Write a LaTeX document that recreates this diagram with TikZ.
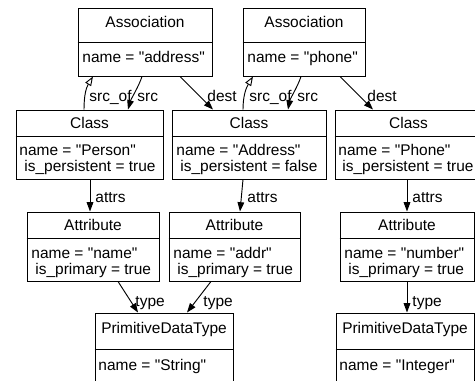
\documentclass[tikz,border=0pt]{standalone}
\usepackage{fontspec}
\setmainfont{Liberation Sans}
\usetikzlibrary{fit}
\usetikzlibrary{arrows.meta}
\tikzstyle{rec} = [rectangle,draw=black,inner sep=0pt]
\tikzstyle{ttl} = [inner sep=0pt,anchor=base]
\tikzstyle{fld} = [inner sep=0pt,anchor=base west]
\tikzstyle{lbl} = [inner sep=0pt,anchor=base west]
\tikzset{>={Triangle[length=7pt,width=5pt]}}
\tikzset{hollow/.style={-{Triangle[open,length=7pt,width=5pt]}}}
\newcommand{\dq}{\textquotedbl}

\begin{document}
\begin{tikzpicture}[x=0.75pt,y=-0.75pt,line width=0.7pt,font=\fontsize{11.6}{14}\selectfont]
  \useasboundingbox (0,0) rectangle (475,381);
  \clip (0,0) rectangle (475,381);

  % associations
  \node [rec,fit={(78,8) (212,76)}] (a1) {};
  \draw (a1.west |- 0,42) -- (a1.east |- 0,42);
  \node [ttl] (a1t) at (a1.center |- 0,28) {Association};
  \node [fld] (a1f) at (82,63) {name = \dq address\dq};

  \node [rec,fit={(243,8) (365,76)}] (a2) {};
  \draw (a2.west |- 0,42) -- (a2.east |- 0,42);
  \node [ttl] (a2t) at (a2.center |- 0,28) {Association};
  \node [fld] (a2f) at (247,63) {name = \dq phone\dq};

  % classes
  \node [rec,fit={(16,110) (163,179)}] (c1) {};
  \draw (c1.west |- 0,136) -- (c1.east |- 0,136);
  \node [ttl] (c1t) at (c1.center |- 0,129) {Class};
  \node [fld] (c1f) at (19,156) {name = \dq Person\dq};
  \node [fld] (c1g) at (24,172) {is\_persistent = true};

  \node [rec,fit={(172,110) (326,179)}] (c2) {};
  \draw (c2.west |- 0,136) -- (c2.east |- 0,136);
  \node [ttl] (c2t) at (c2.center |- 0,129) {Class};
  \node [fld] (c2f) at (176,156) {name = \dq Address\dq};
  \node [fld] (c2g) at (180,172) {is\_persistent = false};

  \node [rec,fit={(335,110) (482,179)}] (c3) {};
  \draw (c3.west |- 0,136) -- (c3.east |- 0,136);
  \node [ttl] (c3t) at (c3.center |- 0,129) {Class};
  \node [fld] (c3f) at (338,156) {name = \dq Phone\dq};
  \node [fld] (c3g) at (342,172) {is\_persistent = true};

  % attributes
  \node [rec,fit={(27,212) (159,281)}] (t1) {};
  \draw (t1.west |- 0,238) -- (t1.east |- 0,238);
  \node [ttl] (t1t) at (t1.center |- 0,231) {Attribute};
  \node [fld] (t1f) at (31,258) {name = \dq name\dq};
  \node [fld] (t1g) at (35,274) {is\_primary = true};

  \node [rec,fit={(169,212) (300,281)}] (t2) {};
  \draw (t2.west |- 0,238) -- (t2.east |- 0,238);
  \node [ttl] (t2t) at (t2.center |- 0,231) {Attribute};
  \node [fld] (t2f) at (173,258) {name = \dq addr\dq};
  \node [fld] (t2g) at (177,274) {is\_primary = true};

  \node [rec,fit={(340,212) (474,281)}] (t3) {};
  \draw (t3.west |- 0,238) -- (t3.east |- 0,238);
  \node [ttl] (t3t) at (t3.center |- 0,231) {Attribute};
  \node [fld] (t3f) at (344,258) {name = \dq number\dq};
  \node [fld] (t3g) at (348,274) {is\_primary = true};

  % primitive types
  \node [rec,fit={(95,313) (233,400)}] (p1) {};
  \draw (p1.west |- 0,349) -- (p1.east |- 0,349);
  \node [ttl] (p1t) at (p1.center |- 0,333) {PrimitiveDataType};
  \node [fld] (p1f) at (98,370) {name = \dq String\dq};

  \node [rec,fit={(336,313) (474,400)}] (p2) {};
  \draw (p2.west |- 0,349) -- (p2.east |- 0,349);
  \node [ttl] (p2t) at (p2.center |- 0,333) {PrimitiveDataType};
  \node [fld] (p2f) at (339,370) {name = \dq Integer\dq};

  % edges
  \draw [hollow] (c1.north -| 84,0) .. controls (84,96) and (86,88) .. (a1.south -| 93,0);
  \draw [->] (a1.south -| 142,0) .. controls (139,86) and (131,99) .. (c1.north -| 128,0);
  \draw [->] (a1.south -| 180,0) -- (c2.north -| 213,0);
  \node [lbl] (l1) at (89,102) {src\_of};
  \node [lbl] (l2) at (137,102) {src};
  \node [lbl] (l3) at (207,102) {dest};

  \draw [hollow] (c2.north -| 243,0) .. controls (243,96) and (246,88) .. (a2.south -| 253,0);
  \draw [->] (a2.south -| 301,0) .. controls (298,86) and (290,99) .. (c2.north -| 288,0);
  \draw [->] (a2.south -| 340,0) -- (c3.north -| 373,0);
  \node [lbl] (l4) at (249,102) {src\_of};
  \node [lbl] (l5) at (297,102) {src};
  \node [lbl] (l6) at (367,102) {dest};

  \draw [->] (c1.south -| 90,0) -- (t1.north -| 90,0);
  \draw [->] (c2.south -| 243,0) -- (t2.north -| 240,0);
  \draw [->] (c3.south -| 407,0) -- (t3.north -| 407,0);
  \node [lbl] (l7) at (95,203) {attrs};
  \node [lbl] (l8) at (247,203) {attrs};
  \node [lbl] (l9) at (412,203) {attrs};

  \draw [->] (t1.south -| 118,0) -- (p1.north -| 138,0);
  \draw [->] (t2.south -| 211,0) -- (p1.north -| 187,0);
  \draw [->] (t3.south -| 407,0) -- (p2.north -| 407,0);
  \node [lbl] (l10) at (135,306) {type};
  \node [lbl] (l11) at (203,306) {type};
  \node [lbl] (l12) at (412,306) {type};

\end{tikzpicture}
\end{document}
